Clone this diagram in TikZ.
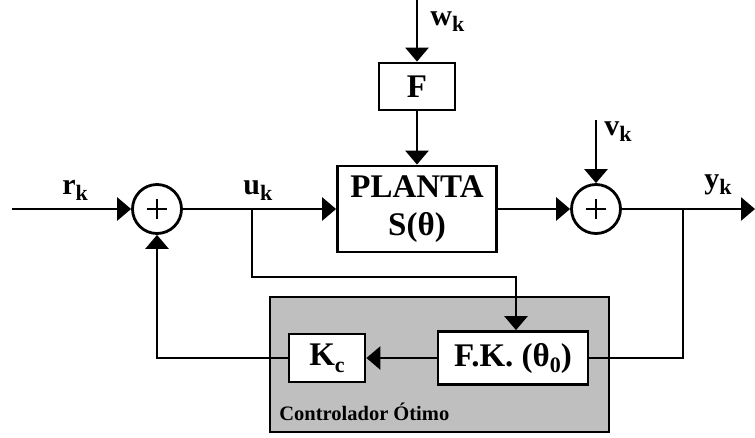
\documentclass[tikz,border=0pt]{standalone}
\usepackage{fontspec}
\setmainfont{Liberation Serif}
\usetikzlibrary{arrows.meta}
\newcommand{\sbk}[1]{\raisebox{-0.45ex}{\fontsize{22}{22}\selectfont #1}}
\begin{document}
\begin{tikzpicture}[x=1pt,y=-1pt,line width=2.8pt,
  >={Triangle[length=14pt,width=23pt]},
  blk/.style={draw,fill=white,inner sep=0pt,font=\fontsize{33}{38}\selectfont\bfseries,align=center},
  sumnode/.style={draw,circle,fill=white,inner sep=0pt,minimum size=49pt},
  lbl/.style={inner sep=0pt,anchor=base west,text height=15pt,text depth=6pt,font=\fontsize{30}{30}\selectfont\bfseries}]
\useasboundingbox (0,0) rectangle (755,437);
% controller background
\node[draw,fill=black!25,minimum width=339pt,minimum height=135pt,inner sep=0pt] (ctrl) at (439.5,364.5) {};
\node[inner sep=0pt,anchor=base west,font=\fontsize{20.5}{22}\selectfont\bfseries] (ctrllbl) at (278,420) {Controlador Ótimo};
% blocks
\node[blk,minimum width=76pt,minimum height=47pt] (F) at (417,86.5) {F};
\node[blk,minimum width=159pt,minimum height=86pt] (P) at (417,209) {PLANTA\\S(θ)};
\node[blk,minimum width=76pt,minimum height=48pt] (Kc) at (327,358) {K\sbk{c}};
\node[blk,minimum width=150pt,minimum height=53pt] (FK) at (513,358) {F.K. (θ\sbk{0})};
% summing junctions
\node[sumnode] (s1) at (157,209) {};
\node[sumnode] (s2) at (596,209) {};
\draw[line width=2pt] ([xshift=-10pt]s1.center) -- ([xshift=10pt]s1.center)
  ([yshift=-10pt]s1.center) -- ([yshift=10pt]s1.center);
\draw[line width=2pt] ([xshift=-10pt]s2.center) -- ([xshift=10pt]s2.center)
  ([yshift=-10pt]s2.center) -- ([yshift=10pt]s2.center);
% coordinates
\coordinate (in) at (12,209);
\coordinate (ub) at (252,209);
\coordinate (yb) at (683,209);
\coordinate (out) at (755,209);
\coordinate (w) at (417,0);
\coordinate (v) at (596,120);
\coordinate (c1) at (516,277);
% connectors
\draw[->] (in) -- (s1.west);
\draw[->] (s1.east) -- (P.west);
\draw[->] (P.east) -- (s2.west);
\draw[->] (s2.east) -- (out);
\draw[->] (w) -- (F.north);
\draw[->] (F.south) -- (P.north);
\draw[->] (v) -- (s2.north);
\draw[->] (ub) |- (c1) -- (c1 |- FK.north);
\draw (yb) |- (FK.east);
\draw[->] (FK.west) -- (Kc.east);
\draw[->] (Kc.west) -| (s1.south);
% labels
\node[lbl] (rk) at (61,194) {r\sbk{k}};
\node[lbl] (uk) at (242,194) {u\sbk{k}};
\node[lbl] (wk) at (429,25) {w\sbk{k}};
\node[lbl] (vk) at (603,135) {v\sbk{k}};
\node[lbl] (yk) at (703,188) {y\sbk{k}};
\end{tikzpicture}
\end{document}
